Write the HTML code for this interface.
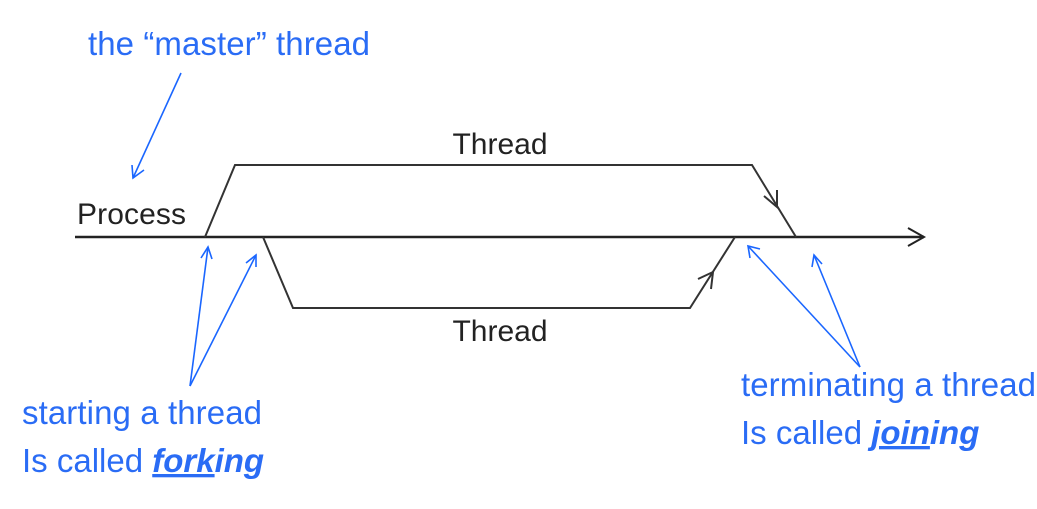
<!DOCTYPE html>
<html><head><meta charset="utf-8"><style>
body{margin:0;background:#fff;width:1037px;height:509px;overflow:hidden}
svg{display:block}
text{font-family:"Liberation Sans",Arial,sans-serif}
.b{fill:#2a6cf5;font-size:33px}
.k{fill:#222;font-size:30px}
</style></head><body>
<svg width="1037" height="509" viewBox="0 0 1037 509">
<g stroke="#222" fill="none" stroke-width="2.5">
<line x1="75" y1="237" x2="924" y2="237"/>
<polyline points="908,228 924,237 908,246" stroke-width="2"/>
</g>
<g stroke="#333" fill="none" stroke-width="2">
<polyline points="205,237 235,165 752,165 796,237"/>
<polyline points="764,196 777,207 777,190"/>
</g>
<g stroke="#333" fill="none" stroke-width="2">
<polyline points="263,237 293,308 690,308 735,237"/>
<polyline points="698,279 713,272 711,289"/>
</g>
<text class="k" x="77" y="224" textLength="109">Process</text>
<text class="k" x="500" y="154" text-anchor="middle">Thread</text>
<text class="k" x="500" y="341" text-anchor="middle">Thread</text>
<g stroke="#1a66ff" fill="none" stroke-width="1.6">
<line x1="181" y1="73" x2="133" y2="178"/><polyline points="132,165 133,178 144,170"/>
<line x1="190" y1="386" x2="208" y2="247"/><polyline points="201,258 208,247 212,259"/>
<line x1="190" y1="386" x2="256" y2="255"/><polyline points="246,263 256,255 256,267"/>
<line x1="860" y1="367" x2="748" y2="246"/><polyline points="750,258 748,246 760,249"/>
<line x1="860" y1="367" x2="814" y2="255"/><polyline points="812,267 814,255 822,264"/>
</g>
<text class="b" x="88" y="55" textLength="282">the “master” thread</text>
<text class="b" x="22" y="424" textLength="240">starting a thread</text>
<text class="b" x="22" y="472">Is called <tspan font-weight="bold" font-style="italic" text-decoration="underline">fork</tspan><tspan font-weight="bold" font-style="italic">ing</tspan></text>
<text class="b" x="741" y="396" textLength="295">terminating a thread</text>
<text class="b" x="741" y="444">Is called <tspan font-weight="bold" font-style="italic" text-decoration="underline">join</tspan><tspan font-weight="bold" font-style="italic">ing</tspan></text>
</svg>
</body></html>
